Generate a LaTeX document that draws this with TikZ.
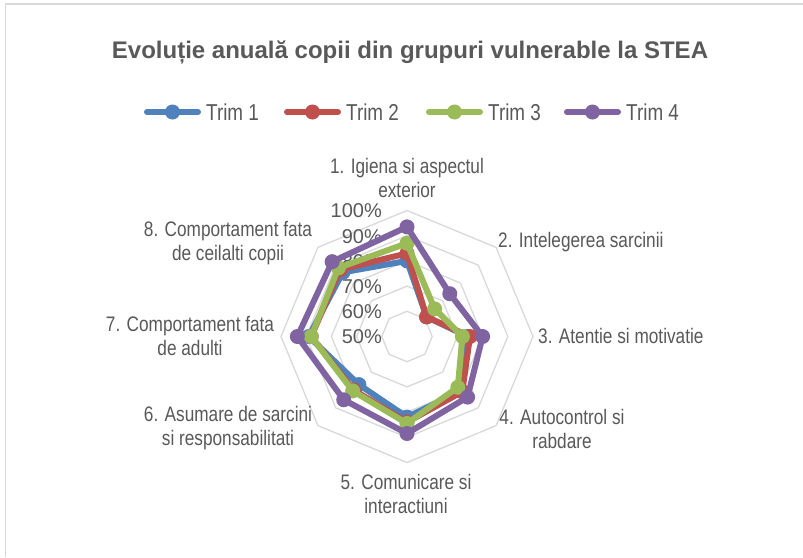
\documentclass[tikz,border=0pt]{standalone}
\usepackage{fontspec}
\usetikzlibrary{calc}
\setmainfont{Liberation Sans}
\newfontfamily\narrowf[FakeStretch=0.82]{Liberation Sans}
\definecolor{gridc}{HTML}{D9D9D9}
\definecolor{txt}{HTML}{595959}
\definecolor{sA}{HTML}{4F81BD}
\definecolor{sB}{HTML}{C0504D}
\definecolor{sC}{HTML}{9BBB59}
\definecolor{sD}{HTML}{8064A2}
\begin{document}
\begin{tikzpicture}[x=1pt,y=-1pt,
  cat/.style={text=txt, font=\narrowf\fontsize{21}{24}\selectfont, align=center, inner sep=0pt},
  leg/.style={text=txt, font=\narrowf\fontsize{23}{24}\selectfont, anchor=west, inner sep=0pt},
  val/.style={text=txt, font=\fontsize{20}{24}\selectfont, anchor=east, inner sep=0pt},
  ser/.style={line width=6pt, line join=round, line cap=round},
  gridline/.style={draw=gridc, line width=1.3pt}]
\useasboundingbox (0,0) rectangle (803,557);
\fill[white] (0,0) rectangle (803,557);
\draw[gridc, line width=1.5pt] (5.5,557) -- (5.5,4) -- (803,4);
% title
\node[text=txt, font=\bfseries\fontsize{24}{28}\selectfont, inner sep=0pt] (title) at (410,52) {Evoluție anuală copii din grupuri vulnerable la STEA};
% legend
\foreach \x/\c/\t [count=\i] in {147/sA/Trim 1, 287/sB/Trim 2, 429/sC/Trim 3, 567/sD/Trim 4}{
  \coordinate (la\i) at (\x,112);
  \coordinate (lb\i) at (\x+51,112);
  \draw[ser,\c] (la\i) -- (lb\i);
  \fill[\c] ($(la\i)!0.5!(lb\i)$) circle (7.5);
  \node[leg] (lt\i) at (\x+59,112) {\t};
}
% grid
\begin{scope}[shift={(407,336.5)}]
\foreach \r in {25.2,50.4,75.6,100.8,126}
  \draw[gridline] (-90:\r) -- (-45:\r) -- (0:\r) -- (45:\r) -- (90:\r) -- (135:\r) -- (180:\r) -- (225:\r) -- cycle;
\end{scope}
% value labels
\foreach \v [count=\i from 0] in {50\%,60\%,70\%,80\%,90\%,100\%}
  \node[val] (v\i) at (382,{337-25.2*\i}) {\v};
% category labels
\node[cat] (c1) at (407,178) {1. Igiena si aspectul\\exterior};
\node[cat, anchor=west] (c2) at (498,242) {2. Intelegerea sarcinii};
\node[cat, anchor=west] (c3) at (538,336) {3. Atentie si motivatie};
\node[cat] (c4) at (562,429) {4. Autocontrol si\\rabdare};
\node[cat] (c5) at (406,494) {5. Comunicare si\\interactiuni};
\node[cat] (c6) at (228,428) {6. Asumare de sarcini\\si responsabilitati};
\node[cat] (c7) at (190,336) {7. Comportament fata\\de adulti};
\node[cat] (c8) at (228,243.5) {8. Comportament fata\\de ceilalti copii};
% series
\begin{scope}[shift={(407,336.5)}]
\foreach \c/\vals in {sA/{80,61,74,80.5,82,77,89,86},
                      sB/{83,61,75,81,84,80,88,87.5},
                      sC/{87,65.5,72,78.5,84.5,80.5,88,88.5},
                      sD/{93.5,74,80,84,88.5,85.5,93.5,92}}{
  \foreach \v [count=\k] in \vals
    \coordinate (p\k) at ({-90+45*(\k-1)}:{(\v-50)*2.52});
  \draw[ser,\c] (p1) -- (p2) -- (p3) -- (p4) -- (p5) -- (p6) -- (p7) -- (p8) -- cycle;
  \foreach \k in {1,...,8}
    \fill[\c] (p\k) circle (7.5);
}
\end{scope}
\end{tikzpicture}
\end{document}
